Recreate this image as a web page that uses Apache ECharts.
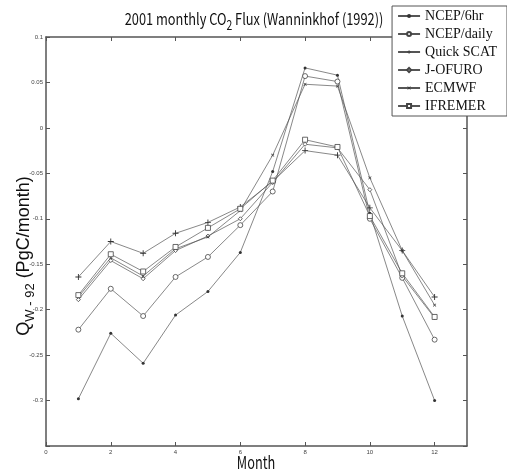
<!DOCTYPE html>
<html>
<head>
<meta charset="utf-8">
<script src="https://cdn.jsdelivr.net/npm/echarts@6/dist/echarts.min.js"></script>
<style>
  html, body { margin: 0; padding: 0; background: #fff; }
  #chart { width: 507px; height: 475px; }
</style>
</head>
<body>
<div id="chart"></div>
<script>
// months on the x axis
const months = [1, 2, 3, 4, 5, 6, 7, 8, 9, 10, 11, 12]

// monthly CO2 flux per product (PgC/month)
const ncep6hr = [-0.298, -0.226, -0.259, -0.206, -0.180, -0.137, -0.048, 0.066, 0.058, -0.094, -0.207, -0.300]
const ncepDaily = [-0.222, -0.177, -0.207, -0.164, -0.142, -0.107, -0.070, 0.057, 0.051, -0.100, -0.165, -0.233]
const quickScat = [-0.164, -0.125, -0.138, -0.116, -0.104, -0.087, -0.059, -0.025, -0.030, -0.088, -0.135, -0.186]
const jOfuro = [-0.189, -0.146, -0.166, -0.135, -0.119, -0.100, -0.060, -0.018, -0.022, -0.068, -0.163, -0.209]
const ecmwf = [-0.186, -0.143, -0.163, -0.133, -0.120, -0.091, -0.030, 0.048, 0.046, -0.055, -0.135, -0.195]
const ifremer = [-0.184, -0.139, -0.158, -0.131, -0.110, -0.089, -0.058, -0.013, -0.021, -0.097, -0.160, -0.208]

const seriesNames = ['NCEP/6hr', 'NCEP/daily', 'Quick SCAT', 'J-OFURO', 'ECMWF', 'IFREMER']

const plusPath = 'path://M3.4,0H4.6V3.4H8V4.6H4.6V8H3.4V4.6H0V3.4H3.4Z'

const chart = echarts.init(document.getElementById('chart'))

// hollow markers: white fill + thin border
const mkSeries = (name, values, symbol, size, hollow, rotate) => ({
  name,
  type: 'line',
  data: months.map((m, i) => [m, values[i]]),
  symbol,
  symbolSize: size,
  symbolRotate: rotate || 0,
  showAllSymbol: true,
  lineStyle: { color: '#555', width: 0.7 },
  itemStyle: hollow
    ? { color: '#fff', borderColor: '#444', borderWidth: 0.8 }
    : { color: '#333', borderWidth: 0 },
  emphasis: { disabled: true },
  animation: false
})

const axisGray = '#555'
const gothic = 'Noto Sans CJK JP'

const frameAxis = {
  axisLine: { onZero: false, lineStyle: { color: axisGray, width: 1.5 } },
  axisTick: { inside: true, length: 4, lineStyle: { color: axisGray } },
  splitLine: { show: false }
}

const option = {
  backgroundColor: '#fff',
  animation: false,
  // title and axis names drawn as text so they can be squeezed like the narrow original font
  graphic: [
    {
      type: 'text',
      x: 254,
      y: 19,
      scaleX: 0.8,
      z: 1,
      style: {
        text: '2001 monthly CO{sub|2} Flux (Wanninkhof (1992))',
        fontFamily: gothic,
        fontSize: 16,
        fill: '#111',
        align: 'center',
        verticalAlign: 'middle',
        rich: {
          sub: { fontFamily: gothic, fontSize: 13, padding: [12, 0, 0, 0], fill: '#111' }
        }
      }
    },
    {
      type: 'text',
      x: 256,
      y: 463,
      scaleX: 0.75,
      style: {
        text: 'Month',
        fontFamily: gothic,
        fontSize: 17,
        fill: '#111',
        align: 'center',
        verticalAlign: 'middle'
      }
    },
    {
      type: 'text',
      x: 24,
      y: 256,
      rotation: Math.PI / 2,
      style: {
        text: 'Q{sub|W - 92} (PgC/month)',
        fontFamily: 'Liberation Sans',
        fontSize: 18,
        fill: '#111',
        align: 'center',
        verticalAlign: 'middle',
        rich: {
          sub: { fontFamily: 'Liberation Sans', fontSize: 13, padding: [13, 0, 0, 0], fill: '#111' }
        }
      }
    }
  ],
  legend: {
    orient: 'vertical',
    right: 0,
    top: 6,
    z: 10,
    data: seriesNames,
    backgroundColor: '#fff',
    borderColor: '#555',
    borderWidth: 1,
    padding: [3, 10, 3, 5],
    itemWidth: 22,
    itemHeight: 5,
    itemGap: 4,
    textStyle: { fontFamily: 'Liberation Serif', fontSize: 14, color: '#111' }
  },
  grid: { left: 46, right: 40, top: 37, bottom: 29 },
  xAxis: [
    {
      type: 'value',
      min: 0,
      max: 13,
      interval: 2,
      ...frameAxis,
      axisLabel: { fontSize: 6, color: '#444', margin: 3, showMaxLabel: false }
    },
    {
      type: 'value',
      position: 'top',
      min: 0,
      max: 13,
      interval: 2,
      ...frameAxis,
      axisLabel: { show: false }
    }
  ],
  yAxis: [
    {
      type: 'value',
      min: -0.35,
      max: 0.1,
      interval: 0.05,
      ...frameAxis,
      axisLabel: {
        fontSize: 6,
        color: '#444',
        margin: 3,
        formatter: (v) => (Math.abs(v + 0.35) < 1e-9 ? '' : String(+v.toFixed(2)))
      }
    },
    {
      type: 'value',
      position: 'right',
      min: -0.35,
      max: 0.1,
      interval: 0.05,
      ...frameAxis,
      axisLabel: { show: false }
    }
  ],
  series: [
    mkSeries('NCEP/6hr', ncep6hr, 'circle', 3, false),
    mkSeries('NCEP/daily', ncepDaily, 'circle', 5, true),
    mkSeries('Quick SCAT', quickScat, plusPath, 6, false),
    mkSeries('J-OFURO', jOfuro, 'diamond', 4, true),
    mkSeries('ECMWF', ecmwf, plusPath, 4, false, 45),
    mkSeries('IFREMER', ifremer, 'rect', 5, true)
  ]
}

chart.setOption(option)
</script>
</body>
</html>
